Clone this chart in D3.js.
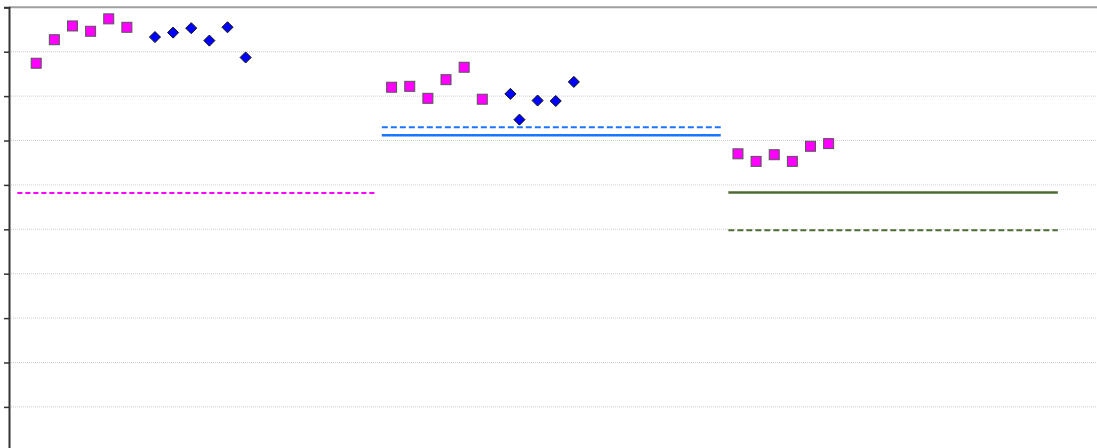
<!DOCTYPE html>
<html>
<head>
<meta charset="utf-8">
<script src="https://cdn.jsdelivr.net/npm/d3@7"></script>
<style>
  body { margin: 0; background: #fff; }
  svg { display: block; }
</style>
</head>
<body>
<div id="chart"></div>
<script>
// data (x in slot units, y in value units 0-100)
var sqX1 = [1.5, 2.5, 3.5, 4.5, 5.5, 6.5];
var sqY1 = [87.4, 92.7, 95.8, 94.6, 97.4, 95.5];
var dmX1 = [8.05, 9.05, 10.05, 11.05, 12.05, 13.05];
var dmY1 = [93.3, 94.3, 95.3, 92.5, 95.5, 88.7];

var sqX2 = [21.1, 22.1, 23.1, 24.1, 25.1, 26.1];
var sqY2 = [82.0, 82.2, 79.5, 83.7, 86.5, 79.3];
var dmX2 = [27.65, 28.15, 29.15, 30.15, 31.15];
var dmY2 = [80.5, 74.7, 79.0, 78.9, 83.2];

var sqX3 = [40.2, 41.2, 42.2, 43.2, 44.2, 45.2];
var sqY3 = [67.0, 65.3, 66.8, 65.3, 68.7, 69.3];

// reference lines: [x0, x1, y]
var refMagenta = [0.46, 20.17, 58.2];
var refBlueDash = [20.56, 39.25, 73.0];
var refBlueSolid = [20.56, 39.25, 71.2];
var refGreenSolid = [39.67, 57.84, 58.3];
var refGreenDash = [39.67, 57.84, 49.8];

var yTicks = [0, 10, 20, 30, 40, 50, 60, 70, 80, 90, 100];

var width = 1097, height = 448;
var margin = { top: 7.3, left: 9 };

var svg = d3.select("#chart").append("svg")
  .attr("width", width)
  .attr("height", height);

var x = d3.scaleLinear().domain([0, 60]).range([margin.left, 1097]);
var y = d3.scaleLinear().domain([0, 100]).range([451.3, margin.top]);

// gridlines
svg.append("g")
  .selectAll("line")
  .data(yTicks.filter(function(d) { return d < 100; }))
  .enter().append("line")
  .attr("x1", margin.left)
  .attr("x2", width)
  .attr("y1", function(d) { return y(d); })
  .attr("y2", function(d) { return y(d); })
  .attr("stroke", "#cfcfcf")
  .attr("stroke-width", 1)
  .attr("stroke-dasharray", "1,1");

// top border
svg.append("line")
  .attr("x1", margin.left).attr("x2", width)
  .attr("y1", y(100)).attr("y2", y(100))
  .attr("stroke", "#a0a0a0")
  .attr("stroke-width", 2);

// left axis, no labels
var yAxis = d3.axisLeft(y).tickValues(yTicks).tickSize(5).tickFormat("");
var gAxis = svg.append("g")
  .attr("transform", "translate(" + margin.left + ",0)")
  .call(yAxis);
gAxis.select(".domain").attr("stroke", "#333").attr("stroke-width", 2);
gAxis.selectAll(".tick line").attr("stroke", "#333").attr("stroke-width", 1.5);

// reference lines
function refLine(r, color, width, dash) {
  svg.append("line")
    .attr("x1", x(r[0])).attr("x2", x(r[1]))
    .attr("y1", y(r[2])).attr("y2", y(r[2]))
    .attr("stroke", color)
    .attr("stroke-width", width)
    .attr("stroke-dasharray", dash);
}
refLine(refMagenta, "#ff00ff", 2, "5,3");
refLine(refBlueDash, "#1a75ff", 2, "6,3");
refLine(refBlueSolid, "#1a75ff", 2.5, null);
refLine(refGreenSolid, "#4e6b35", 2.5, null);
refLine(refGreenDash, "#4e6b35", 2, "6,3");

// markers
function squares(xs, ys) {
  svg.append("g")
    .selectAll("rect")
    .data(xs.map(function(d, i) { return [d, ys[i]]; }))
    .enter().append("rect")
    .attr("x", function(d) { return x(d[0]) - 5; })
    .attr("y", function(d) { return y(d[1]) - 5; })
    .attr("width", 10)
    .attr("height", 10)
    .attr("fill", "#ff00ff")
    .attr("stroke", "#555")
    .attr("stroke-width", 1);
}
function diamonds(xs, ys) {
  var sym = d3.symbol().type(d3.symbolDiamond2).size(78);
  svg.append("g")
    .selectAll("path")
    .data(xs.map(function(d, i) { return [d, ys[i]]; }))
    .enter().append("path")
    .attr("d", sym)
    .attr("transform", function(d) {
      return "translate(" + x(d[0]) + "," + y(d[1]) + ")";
    })
    .attr("fill", "#0000ff")
    .attr("stroke", "#111")
    .attr("stroke-width", 1);
}
squares(sqX1, sqY1);
diamonds(dmX1, dmY1);
squares(sqX2, sqY2);
diamonds(dmX2, dmY2);
squares(sqX3, sqY3);
</script>
</body>
</html>
